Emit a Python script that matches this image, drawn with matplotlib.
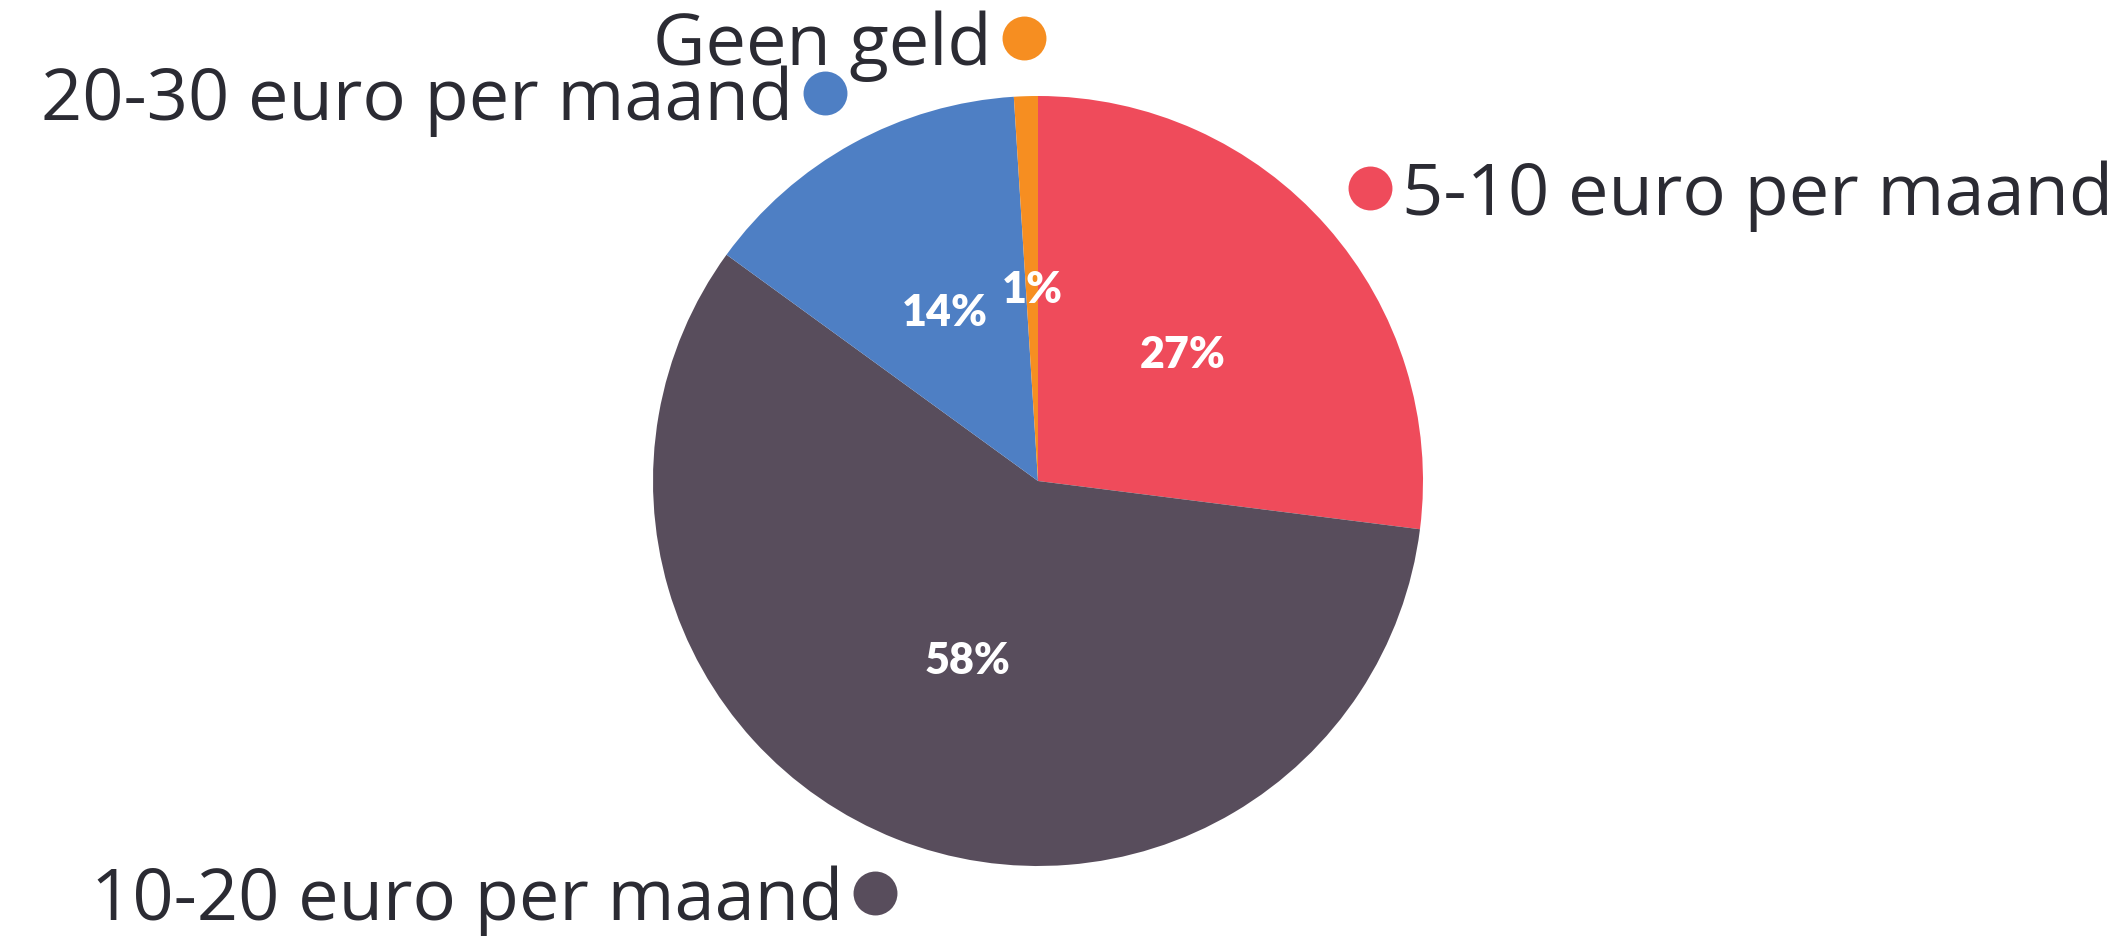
import numpy as np
import matplotlib
matplotlib.use("Agg")
import matplotlib.pyplot as plt

categories = ["5-10 euro per maand", "10-20 euro per maand", "20-30 euro per maand", "Geen geld"]
values = [27, 58, 14, 1]
pct_labels = ["27%", "58%", "14%", "1%"]
colors = ["#EF4B5B", "#584D5C", "#4E7FC4", "#F68E21"]

W, H = 2124, 937
fig = plt.figure(figsize=(W / 100, H / 100), dpi=100)
ax = fig.add_axes([0, 0, 1, 1])
cx, cy, R = 1038, 482, 385
ax.axis("off")

wedges, _ = ax.pie(values, colors=colors, startangle=90, counterclock=False,
                   radius=1, center=(0, 0), wedgeprops=dict(linewidth=0))
ax.set_xlim(-cx / R, (W - cx) / R)
ax.set_ylim(-(H - cy) / R, cy / R)
ax.set_aspect("equal")

font = "Open Sans"
txt_color = "#2B2B33"
for w, cat, pl, col in zip(wedges, categories, pct_labels, colors):
    mid = np.deg2rad((w.theta1 + w.theta2) / 2)
    ax.text(0.5 * np.cos(mid), 0.5 * np.sin(mid), pl, ha="center", va="center",
            color="white", fontsize=31, fontweight="heavy", family="Lato")
    dx, dy = 1.15 * np.cos(mid), 1.15 * np.sin(mid)
    ax.scatter([dx], [dy], s=1000, color=col, zorder=5, linewidths=0)
    off = 32 / R
    if np.cos(mid) >= 0:
        ax.text(dx + off, dy - 26 / R, cat, ha="left", va="baseline",
                color=txt_color, fontsize=52, family=font)
    else:
        ax.text(dx - off, dy - 26 / R, cat, ha="right", va="baseline",
                color=txt_color, fontsize=52, family=font)

fig.savefig("out.png", dpi=100, facecolor="white")
